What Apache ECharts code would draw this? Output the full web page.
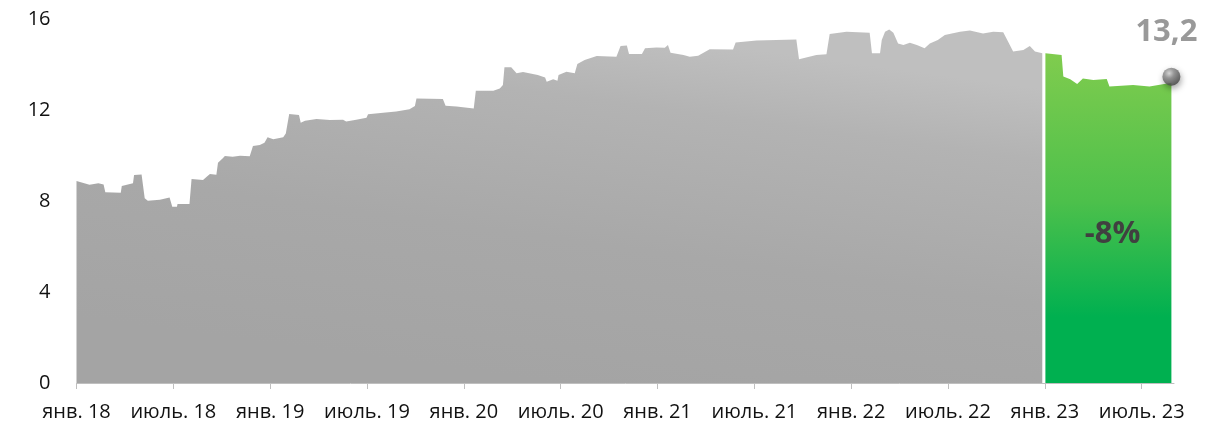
<!DOCTYPE html>
<html>
<head>
<meta charset="utf-8">
<script src="https://cdn.jsdelivr.net/npm/echarts@6/dist/echarts.min.js"></script>
<style>
html,body{margin:0;padding:0;background:#fff;}
#chart{width:1225px;height:428px;}
</style>
</head>
<body>
<div id="chart"></div>
<script>
// ---- data ----
const tickLabels = ['янв. 18','июль. 18','янв. 19','июль. 19','янв. 20','июль. 20','янв. 21','июль. 21','янв. 22','июль. 22','янв. 23','июль. 23'];

const greyDates = [
'2018-01-01','2018-01-26','2018-02-11','2018-02-20','2018-02-23','2018-03-24','2018-03-26','2018-04-16','2018-04-18','2018-05-02',
'2018-05-08','2018-05-14','2018-06-06','2018-06-24','2018-06-29','2018-07-08','2018-07-09','2018-08-01','2018-08-05','2018-08-27',
'2018-09-03','2018-09-09','2018-09-21','2018-09-24','2018-10-03','2018-10-07','2018-10-22','2018-11-05','2018-11-23','2018-11-29',
'2018-12-12','2018-12-21','2018-12-27','2019-01-07','2019-01-26','2019-01-31','2019-02-06','2019-02-23','2019-02-26','2019-03-06',
'2019-03-28','2019-04-22','2019-05-17','2019-05-23','2019-06-11','2019-06-30','2019-07-03','2019-08-01','2019-08-26','2019-09-20',
'2019-09-30','2019-10-03','2019-11-22','2019-11-27','2019-12-18','2020-01-20','2020-01-24','2020-02-25','2020-03-08','2020-03-14',
'2020-03-17','2020-03-30','2020-04-09','2020-04-21','2020-05-19','2020-06-02','2020-06-05','2020-06-17','2020-06-25','2020-06-27',
'2020-07-12','2020-07-28','2020-08-02','2020-08-16','2020-09-08','2020-10-15','2020-10-23','2020-11-04','2020-11-08','2020-12-02',
'2020-12-08','2020-12-30','2021-01-15','2021-01-21','2021-01-26','2021-02-18','2021-03-01','2021-03-17','2021-04-08','2021-05-22',
'2021-05-27','2021-07-05','2021-09-19','2021-09-24','2021-10-27','2021-11-15','2021-11-21','2021-12-23','2022-02-05','2022-02-09',
'2022-02-23','2022-02-26','2022-03-04','2022-03-12','2022-03-20','2022-03-29','2022-04-08','2022-04-20','2022-05-03','2022-05-18',
'2022-05-28','2022-06-12','2022-06-25','2022-07-24','2022-08-12','2022-09-06','2022-09-25','2022-10-14','2022-10-20','2022-11-02',
'2022-11-21','2022-12-03','2022-12-13','2022-12-27'
];
const greyValues = [
8.88,8.71,8.78,8.72,8.38,8.36,8.66,8.78,9.14,9.17,
8.12,8.01,8.05,8.15,7.75,7.75,7.87,7.87,8.97,8.92,
9.07,9.19,9.15,9.68,9.88,9.98,9.95,9.99,9.97,10.42,
10.46,10.56,10.80,10.71,10.80,10.97,11.82,11.78,11.44,11.53,
11.60,11.56,11.57,11.50,11.57,11.66,11.81,11.88,11.93,12.03,
12.18,12.51,12.48,12.19,12.15,12.07,12.85,12.85,12.95,13.10,
13.88,13.88,13.61,13.67,13.54,13.43,13.24,13.35,13.29,13.54,
13.68,13.61,14.02,14.20,14.37,14.34,14.81,14.84,14.46,14.46,
14.71,14.75,14.74,14.86,14.52,14.42,14.34,14.38,14.67,14.66,
14.97,15.05,15.10,14.23,14.42,14.45,15.34,15.44,15.40,14.49,
14.50,15.08,15.44,15.54,15.40,14.92,14.86,14.96,14.86,14.71,
14.92,15.08,15.30,15.44,15.49,15.36,15.44,15.42,15.15,14.57,
14.64,14.81,14.57,14.49
];

const greenDates = ['2023-01-02','2023-02-02','2023-02-05','2023-02-17','2023-03-01','2023-03-12','2023-04-01','2023-04-26','2023-05-01','2023-06-15','2023-07-16','2023-08-27'];
const greenValues = [14.49,14.42,13.47,13.35,13.14,13.39,13.32,13.36,13.03,13.10,13.03,13.2];

const lastLabel = '13,2';
const changeLabel = '-8%';

// ---- helpers ----
function monthIndex(s){
  const p = s.split('-').map(Number);
  const dim = new Date(p[0], p[1], 0).getDate();
  return (p[0]-2018)*12 + (p[1]-1) + (p[2]-1)/dim;
}
const greyData = greyDates.map((d,i)=>[monthIndex(d), greyValues[i]]);
const greenData = greenDates.map((d,i)=>[monthIndex(d), greenValues[i]]);
const tickValues = tickLabels.map((_,i)=>i*6);
const lastPoint = greenData[greenData.length-1];

const chart = echarts.init(document.getElementById('chart'), null, {renderer:'canvas'});
const FONT = '"Open Sans", "Noto Sans", sans-serif';

chart.setOption({
  animation:false,
  grid:{left:76.5, right:51, top:19, bottom:45, containLabel:false},
  xAxis:{
    type:'value', min:0, max:68, interval:6,
    splitLine:{show:false},
    axisLine:{show:true, lineStyle:{color:'#bfbfbf', width:1}},
    axisTick:{show:true, customValues:tickValues, length:6, lineStyle:{color:'#bfbfbf'}},
    axisLabel:{
      customValues:tickValues,
      margin:19,
      fontFamily:FONT, fontSize:20, color:'#111111',
      formatter:(v)=>{ const i=Math.round(v/6); return tickLabels[i] || ''; }
    }
  },
  yAxis:{
    type:'value', min:0, max:16, interval:4,
    splitLine:{show:false},
    axisLine:{show:false}, axisTick:{show:false},
    axisLabel:{margin:26, fontFamily:FONT, fontSize:20, color:'#111111'}
  },
  series:[
    {
      type:'line', data:greyData, showSymbol:false, symbol:'none',
      lineStyle:{width:0},
      areaStyle:{opacity:1, color:new echarts.graphic.LinearGradient(0.5,1,0.55,0,[
        {offset:0,color:'#a4a4a4'},{offset:0.4,color:'#a8a8a8'},{offset:0.8,color:'#b3b3b3'},{offset:1,color:'#bfbfbf'}])},
      z:2
    },
    {
      type:'line', data:greenData, showSymbol:false, symbol:'none',
      lineStyle:{width:0},
      areaStyle:{opacity:1, color:new echarts.graphic.LinearGradient(0,0,0,1,[
        {offset:0,color:'#80cc4e'},{offset:0.45,color:'#4cc04b'},{offset:0.8,color:'#00b050'},{offset:1,color:'#00b050'}])},
      markPoint:{
        symbol:'circle', symbolSize:1, itemStyle:{color:'rgba(0,0,0,0)'},
        data:[{coord:[64.2, 6.55], value:changeLabel}],
        label:{show:true, position:'inside', formatter:changeLabel, fontFamily:FONT, fontWeight:'bold', fontSize:31, color:'#404040'}
      },
      z:2
    },
    {
      type:'scatter', data:[lastPoint], symbolSize:18, symbolOffset:[0,-6], z:5,
      itemStyle:{
        color:new echarts.graphic.RadialGradient(0.38,0.32,0.75,[
          {offset:0,color:'#d8d8d8'},{offset:0.35,color:'#8c8c8c'},{offset:1,color:'#3a3a3a'}]),
        shadowBlur:6, shadowColor:'rgba(0,0,0,0.45)', shadowOffsetX:1, shadowOffsetY:3
      },
      label:{show:true, position:'top', distance:20, offset:[-5,0], formatter:lastLabel,
        fontFamily:FONT, fontWeight:'bold', fontSize:31, color:'#7f7f7f'}
    }
  ]
});
</script>
</body>
</html>
